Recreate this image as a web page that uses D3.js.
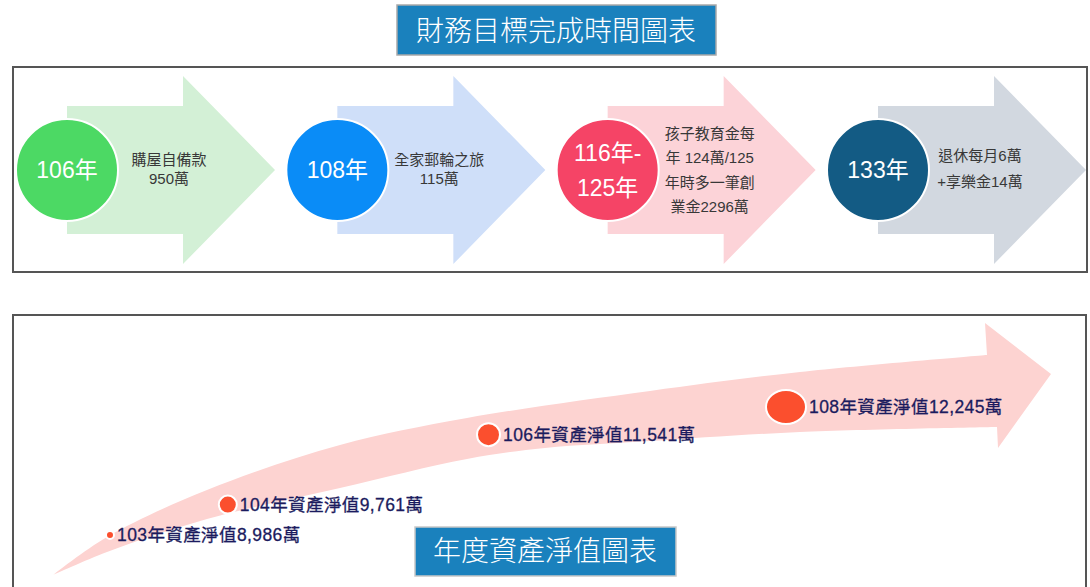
<!DOCTYPE html>
<html>
<head>
<meta charset="utf-8">
<script src="https://cdn.jsdelivr.net/npm/d3@7"></script>
<style>
  body { margin: 0; background: #fff; }
  text { font-family: "Liberation Sans", "Noto Sans CJK TC", sans-serif; }
</style>
</head>
<body>
<div id="chart"></div>
<script>
// goals timeline
var goalYears = [["106年"], ["108年"], ["116年-", "125年"], ["133年"]];
var goalNotes = [
    ["購屋自備款", "950萬"],
    ["全家郵輪之旅", "115萬"],
    ["孩子教育金每", "年 124萬/125", "年時多一筆創", "業金2296萬"],
    ["退休每月6萬", "+享樂金14萬"]
];

// net worth by year
var nwYears = [103, 104, 106, 108];
var nwValues = [8986, 9761, 11541, 12245];

var circleColors = ["#4cd964", "#0a8cf7", "#f54466", "#135b84"];
var arrowColors = ["#d3f0d6", "#cfdff9", "#fcd3d8", "#d2d8e0"];

var W = 1090, H = 587;
var svg = d3.select("#chart").append("svg")
    .attr("width", W)
    .attr("height", H);

// ---------- top panel ----------
svg.append("rect")
    .attr("x", 13).attr("y", 67)
    .attr("width", 1074).attr("height", 205)
    .attr("fill", "#fff")
    .attr("stroke", "#555")
    .attr("stroke-width", 2);

var gx = d3.scalePoint()
    .domain(d3.range(goalYears.length))
    .range([67, 878]);
var cy = 170;

var goals = svg.append("g").selectAll("g")
    .data(goalYears)
    .join("g")
    .attr("transform", function (d, i) { return "translate(" + gx(i) + "," + cy + ")"; });

goals.append("path")
    .attr("d", "M0,-64 L116,-64 L116,-94 L208,0 L116,94 L116,64 L0,64 Z")
    .attr("fill", function (d, i) { return arrowColors[i]; });

goals.append("circle")
    .attr("r", 51)
    .attr("fill", function (d, i) { return circleColors[i]; })
    .attr("stroke", "#fff")
    .attr("stroke-width", 2);

goals.each(function (lines) {
    var g = d3.select(this);
    var off = (lines.length - 1) / 2;
    lines.forEach(function (t, k) {
        g.append("text")
            .attr("y", (k - off) * 35)
            .attr("dy", "0.36em")
            .attr("text-anchor", "middle")
            .attr("fill", "#fff")
            .attr("font-size", 23)
            .text(t);
    });
});

goals.each(function (d, i) {
    var g = d3.select(this);
    var lines = goalNotes[i];
    var step = lines.length > 2 ? 24.5 : (i == 3 ? 26 : 19);
    var off = (lines.length - 1) / 2;
    lines.forEach(function (t, k) {
        g.append("text")
            .attr("x", 102)
            .attr("y", (k - off) * step - (lines.length > 2 ? 0 : 1))
            .attr("dy", "0.36em")
            .attr("text-anchor", "middle")
            .attr("fill", "#383838")
            .attr("font-size", 15)
            .text(t);
    });
});

// top title
svg.append("rect")
    .attr("x", 397).attr("y", 5)
    .attr("width", 319).attr("height", 50)
    .attr("fill", "#1a81bd")
    .attr("stroke", "#a9a9a9")
    .attr("stroke-width", 1.5);
svg.append("text")
    .attr("x", 556).attr("y", 31)
    .attr("dy", "0.36em")
    .attr("text-anchor", "middle")
    .attr("fill", "#fff")
    .attr("font-size", 28)
    .attr("font-weight", 300)
    .text("財務目標完成時間圖表");

// ---------- bottom panel ----------
svg.append("rect")
    .attr("x", 13).attr("y", 315)
    .attr("width", 1073).attr("height", 290)
    .attr("fill", "#fff")
    .attr("stroke", "#555")
    .attr("stroke-width", 2);

// big curved arrow (decoration)
var upper = [[53, 575], [107, 537], [207, 490], [340, 445], [467, 418], [650, 391], [800, 372], [987, 355]];
var lower = [[997, 427], [800, 432], [650, 441], [545, 448], [467, 459], [340, 488], [207, 519], [107, 552], [53, 575]];
var curve = d3.line().curve(d3.curveCatmullRom.alpha(0.5));
var arrowD = curve(upper) + "L985,323L1051,374L998,448" + curve(lower).replace(/^M/, "L") + "Z";
svg.append("path")
    .attr("d", arrowD)
    .attr("fill", "#fdd3d1");

var x = d3.scalePow().exponent(8).domain([103, 108]).range([110, 786]);
var y = d3.scaleLinear().domain([8986, 12245]).range([535, 407]);
var rx = d3.scaleOrdinal().domain(nwYears).range([4, 9, 11.5, 20]);
var ry = d3.scaleOrdinal().domain(nwYears).range([4, 9, 11.5, 17]);

var nw = nwYears.map(function (yr, i) { return { year: yr, value: nwValues[i] }; });

svg.append("g").selectAll("ellipse")
    .data(nw)
    .join("ellipse")
    .attr("cx", function (d) { return x(d.year); })
    .attr("cy", function (d) { return y(d.value); })
    .attr("rx", function (d) { return rx(d.year); })
    .attr("ry", function (d) { return ry(d.year); })
    .attr("fill", "#fb4f2e")
    .attr("stroke", "#fff")
    .attr("stroke-width", 2);

svg.append("g").selectAll("text")
    .data(nw)
    .join("text")
    .attr("x", function (d) { return x(d.year) + rx(d.year) + 3; })
    .attr("y", function (d) { return y(d.value); })
    .attr("dy", "0.36em")
    .attr("fill", "#1b1b5e")
    .attr("font-size", 17.5)
    .attr("letter-spacing", 0.4)
    .attr("stroke", "#1b1b5e")
    .attr("stroke-width", 0.3)
    .text(function (d) { return d.year + "年資產淨值" + d3.format(",")(d.value) + "萬"; });

// bottom title
svg.append("rect")
    .attr("x", 415).attr("y", 527)
    .attr("width", 261).attr("height", 49)
    .attr("fill", "#1a81bd")
    .attr("stroke", "#c8c8c8")
    .attr("stroke-width", 1.5);
svg.append("text")
    .attr("x", 545).attr("y", 551)
    .attr("dy", "0.36em")
    .attr("text-anchor", "middle")
    .attr("fill", "#fff")
    .attr("font-size", 28)
    .attr("font-weight", 300)
    .text("年度資產淨值圖表");
</script>
</body>
</html>
